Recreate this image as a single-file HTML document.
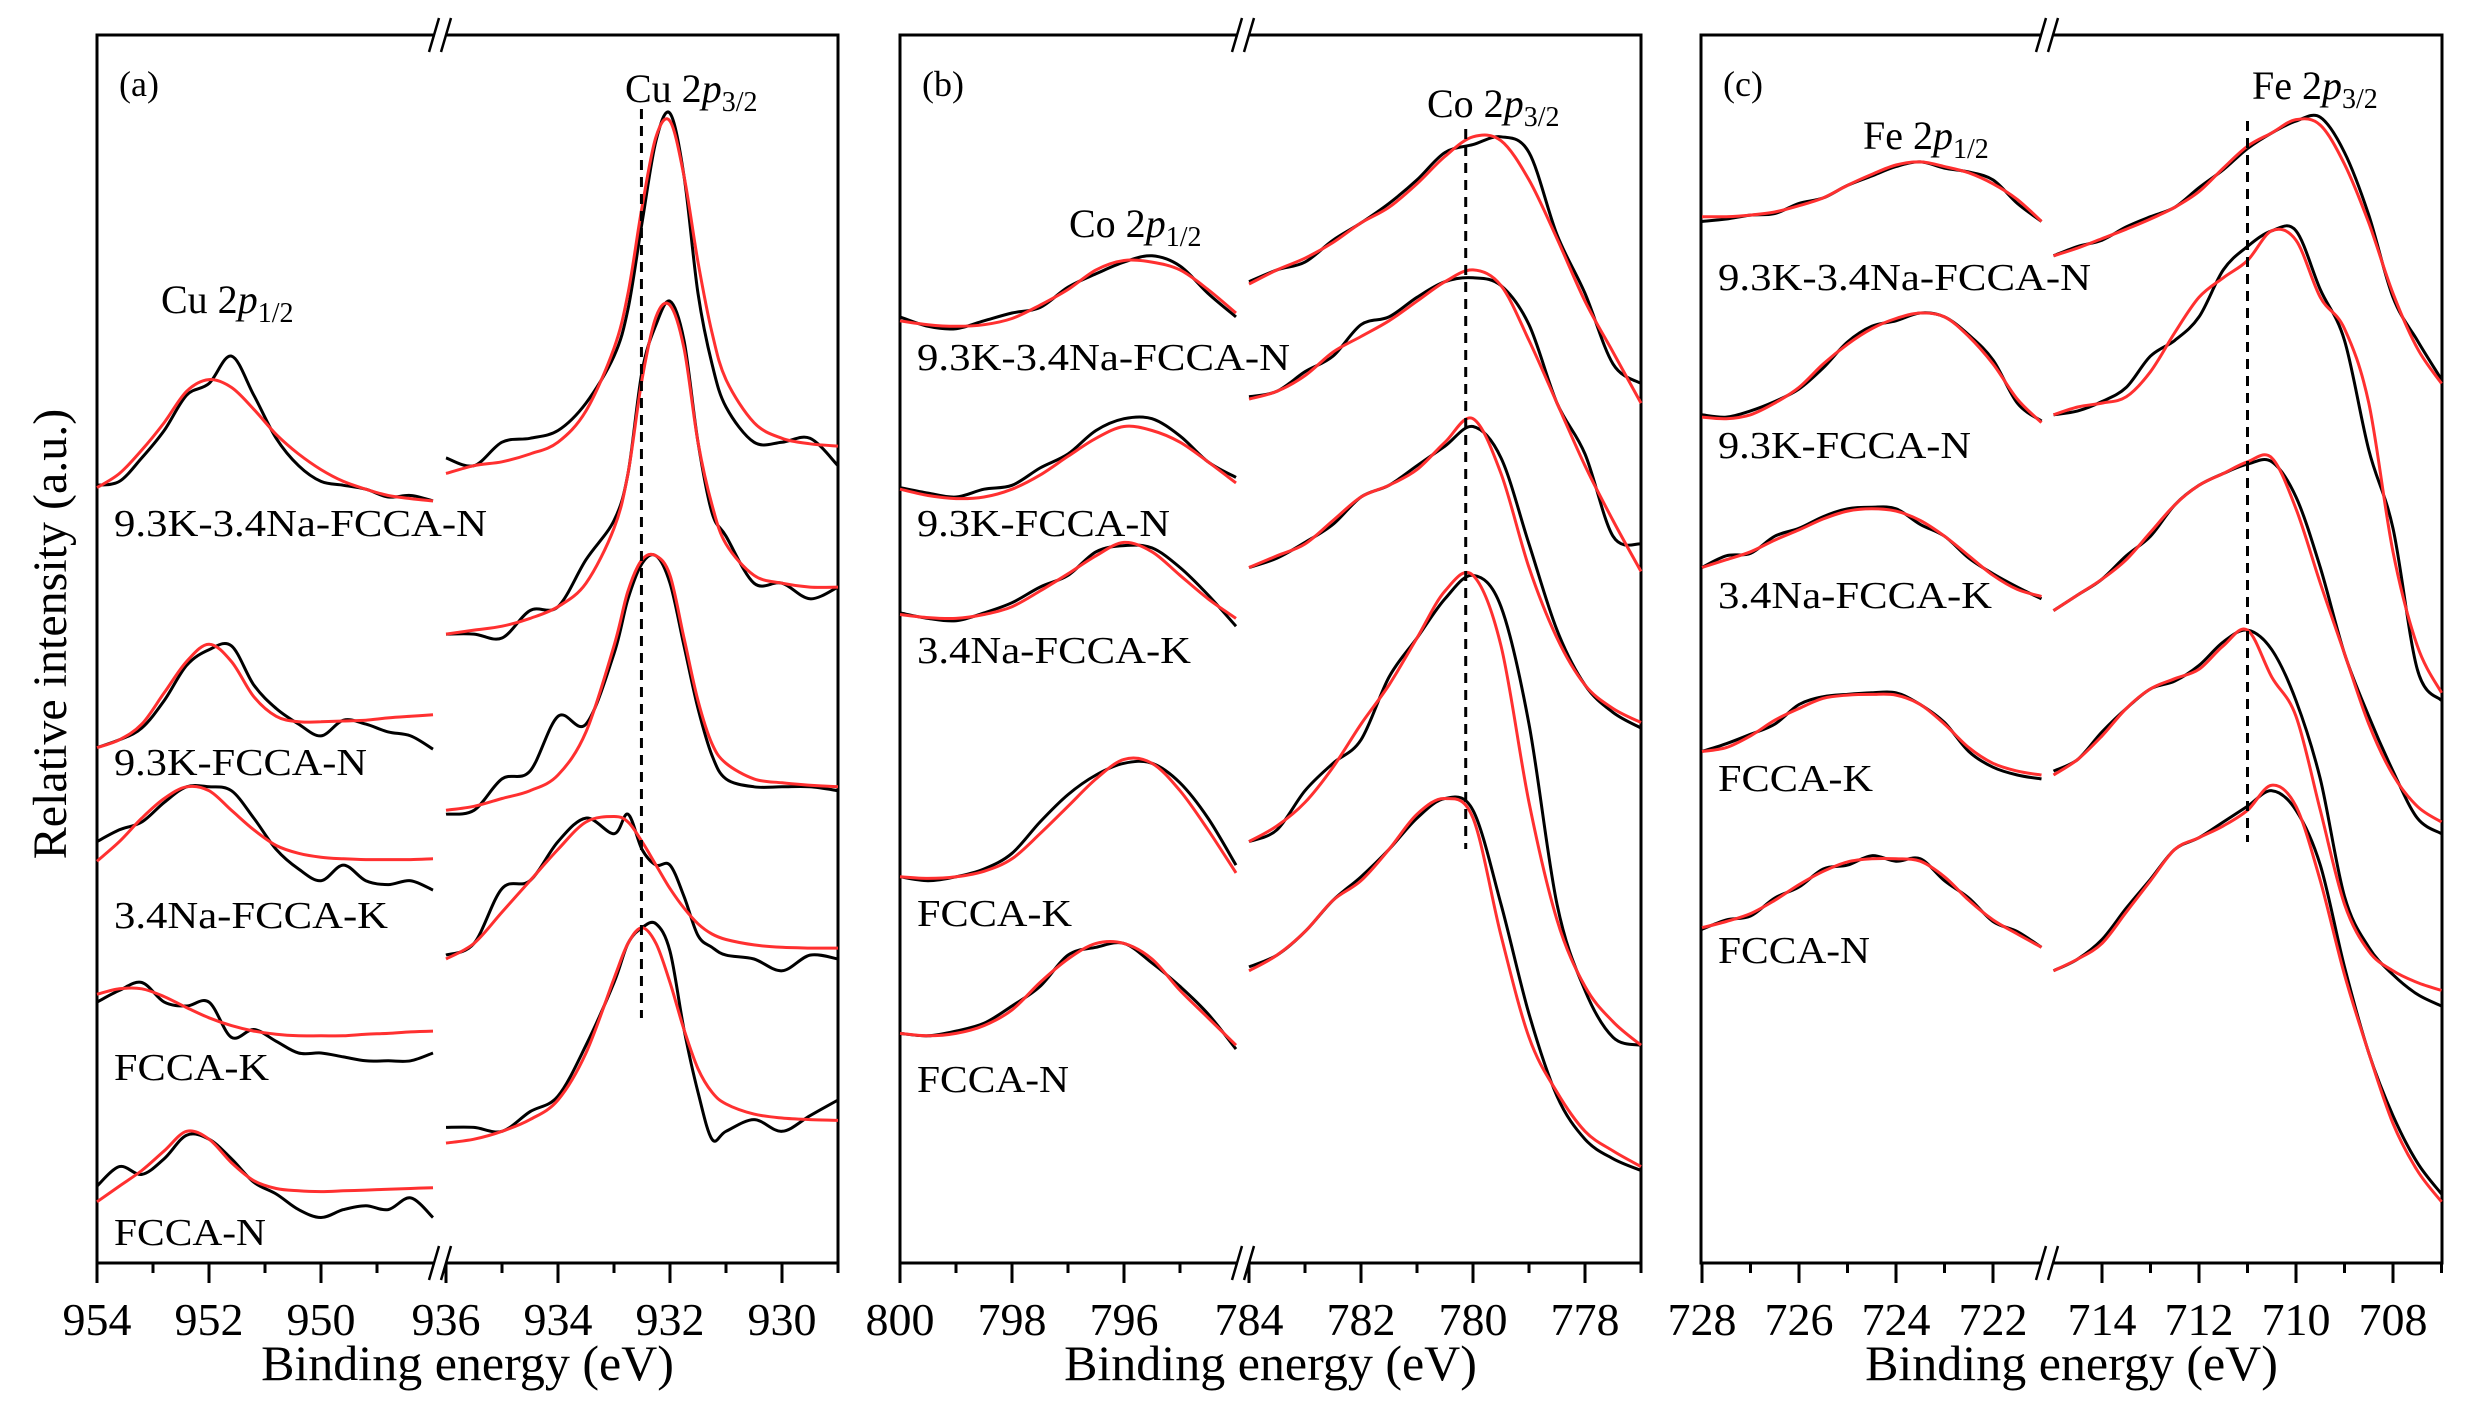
<!DOCTYPE html>
<html><head><meta charset="utf-8"><style>
html,body{margin:0;padding:0;background:#fff}
svg{display:block}
text{font-family:"Liberation Serif",serif;fill:#000}
</style></head><body>
<svg id="chart" width="2471" height="1408" viewBox="0 0 2471 1408" xmlns="http://www.w3.org/2000/svg">
<text x="55" y="634" font-size="48" text-anchor="middle" dominant-baseline="middle" transform="rotate(-90 55 634)">Relative intensity (a.u.)</text>
<g id="layer"></g>
</svg>
<script>
// ---- energies (eV) ----
const aLeftE=[954,953.6,953.2,952.8,952.4,952.0,951.6,951.2,950.8,950.4,950.0,949.6,949.2,948.8,948.4,948.0];
const aRightE=[936,935.5,935,934.5,934,933.5,933,932.75,932.5,932.25,932,931.75,931.5,931.25,931,930.5,930,929.5,929];
const bLeftE=[800,799.5,799,798.5,798,797.5,797,796.5,796,795.5,795,794.5,794];
const bRightE=[784,783.5,783,782.5,782,781.5,781,780.5,780,779.5,779,778.5,778,777.5,777];
const cLeftE=[728,727.5,727,726.5,726,725.5,725,724.5,724,723.5,723,722.5,722,721.5,721];
const cRightE=[715,714.5,714,713.5,713,712.5,712,711.5,711,710.5,710,709.5,709,708.5,708,707.5,707];
// ---- sample names ----
const samples=["9.3K-3.4Na-FCCA-N","9.3K-FCCA-N","3.4Na-FCCA-K","FCCA-K","FCCA-N"];
// ---- panel (a) Cu ----
const aL_black=[[1425,1430,1460,1495,1540,1555,1590,1540,1485,1450,1430,1425,1420,1410,1412,1405],
[1090,1100,1115,1150,1195,1215,1220,1170,1140,1120,1105,1125,1120,1110,1105,1088],
[970,985,995,1020,1040,1040,1035,1000,960,935,920,940,920,915,920,908],
[765,780,790,765,760,765,720,730,715,700,700,695,690,690,690,700],
[530,555,545,565,595,590,565,535,520,500,490,500,505,500,515,490]];
const aL_fit=[[1422,1440,1470,1505,1545,1560,1550,1522,1490,1465,1445,1430,1420,1412,1408,1405],
[1090,1100,1120,1160,1200,1222,1200,1155,1130,1123,1123,1124,1125,1128,1130,1132],
[945,970,1000,1025,1040,1035,1010,985,965,955,950,948,947,947,947,948],
[775,782,782,772,758,745,735,728,724,722,722,722,724,725,727,728],
[510,530,550,575,600,590,560,537,527,524,523,524,525,526,527,528]];
const aR_black=[[1460,1450,1480,1485,1495,1530,1590,1650,1760,1865,1900,1820,1670,1580,1525,1480,1480,1485,1450],
[1235,1235,1230,1265,1270,1330,1380,1440,1570,1630,1660,1610,1480,1390,1360,1300,1300,1280,1295],
[1005,1010,1050,1060,1130,1120,1210,1280,1325,1335,1300,1220,1140,1080,1050,1040,1040,1040,1035],
[825,840,910,920,970,1000,980,1005,960,940,940,900,850,835,825,820,805,825,820],
[605,605,600,625,645,710,790,840,860,865,830,730,650,590,600,615,600,620,640]];
const aR_fit=[[1440,1450,1455,1465,1480,1520,1600,1670,1780,1870,1890,1820,1710,1620,1560,1505,1485,1478,1475],
[1235,1240,1245,1255,1270,1300,1370,1440,1560,1640,1655,1600,1480,1400,1350,1310,1300,1295,1295],
[1010,1015,1025,1035,1055,1110,1220,1290,1330,1335,1310,1230,1150,1095,1070,1050,1045,1042,1040],
[820,840,880,920,960,995,1002,995,970,940,910,885,865,852,845,838,835,834,834],
[585,590,600,615,640,700,795,840,860,840,790,730,680,650,635,622,617,615,614]];
// ---- panel (b) Co ----
const bL_black=[[1640,1628,1625,1635,1645,1652,1678,1695,1710,1718,1705,1670,1640],
[1422,1415,1410,1420,1425,1447,1465,1495,1510,1510,1488,1455,1435],
[1262,1255,1252,1262,1275,1295,1310,1340,1348,1345,1320,1285,1245],
[925,920,925,935,955,995,1030,1055,1070,1070,1045,1000,940],
[725,722,728,738,760,785,825,835,840,815,785,750,705]];
const bL_fit=[[1635,1630,1628,1630,1638,1655,1675,1700,1712,1710,1700,1675,1645],
[1420,1412,1408,1410,1420,1438,1462,1485,1500,1495,1480,1455,1428],
[1260,1256,1255,1260,1270,1290,1312,1335,1352,1340,1310,1280,1255],
[925,923,925,932,948,980,1015,1050,1075,1070,1035,985,930],
[725,722,725,735,755,790,820,840,840,820,780,745,710]];
const bR_black=[[1685,1700,1710,1738,1760,1785,1815,1850,1860,1870,1850,1745,1670,1580,1555],
[1538,1545,1570,1590,1630,1640,1665,1685,1690,1680,1630,1530,1465,1360,1350],
[1320,1332,1352,1375,1410,1425,1450,1475,1500,1460,1350,1240,1170,1135,1115],
[970,985,1035,1070,1100,1180,1230,1280,1310,1270,1120,890,780,720,710],
[810,825,855,895,925,960,1000,1025,1010,890,750,645,590,565,550]];
const bR_fit=[[1682,1700,1715,1735,1760,1780,1810,1845,1870,1865,1815,1740,1660,1595,1530],
[1535,1545,1565,1595,1615,1635,1660,1685,1700,1680,1610,1530,1450,1380,1315],
[1320,1335,1350,1380,1410,1425,1445,1480,1510,1440,1320,1230,1170,1140,1122],
[970,990,1020,1065,1120,1170,1230,1290,1310,1220,1020,870,785,740,710],
[805,825,855,895,920,960,1005,1025,1000,850,720,650,600,575,555]];
// ---- panel (c) Fe ----
const cL_black=[[1762,1765,1770,1772,1785,1792,1808,1820,1832,1838,1830,1825,1815,1785,1762],
[1515,1512,1520,1532,1548,1575,1608,1628,1635,1645,1640,1617,1585,1530,1507],
[1320,1335,1338,1360,1370,1385,1395,1397,1395,1375,1360,1332,1312,1295,1280],
[1085,1095,1107,1120,1145,1155,1158,1160,1160,1145,1122,1085,1065,1055,1050],
[858,870,875,898,912,935,940,952,945,948,920,898,868,855,835]];
const cL_fit=[[1768,1768,1770,1774,1782,1792,1808,1822,1834,1838,1832,1824,1810,1790,1762],
[1512,1510,1515,1530,1550,1580,1605,1625,1638,1645,1640,1615,1580,1535,1505],
[1320,1330,1340,1355,1368,1382,1392,1395,1392,1380,1360,1335,1310,1292,1283],
[1085,1090,1105,1125,1140,1153,1157,1158,1157,1145,1120,1090,1070,1060,1055],
[860,868,878,895,915,932,944,948,948,945,925,895,870,852,835]];
const cR_black=[[1718,1730,1738,1755,1768,1780,1805,1828,1855,1875,1890,1895,1850,1770,1665,1610,1560],
[1515,1520,1532,1550,1590,1610,1640,1700,1730,1750,1750,1675,1610,1470,1370,1190,1150],
[1265,1285,1305,1335,1360,1400,1425,1440,1452,1455,1410,1320,1210,1130,1060,1000,980],
[1060,1075,1110,1140,1165,1175,1195,1225,1240,1215,1150,1050,900,835,800,775,760],
[805,820,845,885,922,960,975,995,1015,1035,1010,940,810,700,620,560,520]];
const cR_fit=[[1718,1728,1740,1752,1765,1780,1800,1830,1858,1875,1892,1885,1835,1760,1670,1600,1555],
[1515,1525,1530,1538,1570,1620,1665,1690,1712,1750,1738,1665,1625,1530,1340,1220,1160],
[1265,1285,1305,1330,1365,1400,1425,1440,1455,1460,1395,1300,1210,1120,1055,1015,995],
[1055,1075,1105,1140,1165,1178,1190,1220,1240,1180,1130,1010,890,830,805,790,780],
[805,820,840,880,920,960,975,990,1010,1042,1015,920,800,700,610,550,510]];
// ---- ticks / peak positions ----
const aTicksL=[954,953,952,951,950,949], aTicksR=[936,935,934,933,932,931,930,929];
const bTicksL=[800,799,798,797,796,795], bTicksR=[784,783,782,781,780,779,778,777];
const cTicksL=[728,727,726,725,724,723,722], cTicksR=[714,713,712,711,710,709,708,707];
const aLabelsL=[954,952,950], aLabelsR=[936,934,932,930];
const bLabelsL=[800,798,796], bLabelsR=[784,782,780,778];
const cLabelsL=[728,726,724,722], cLabelsR=[714,712,710,708];
const peakLines=[932.51,780.13,711.0];

const NS="http://www.w3.org/2000/svg";
const layer=document.getElementById('layer');
const TOP=35,BOT=1263;
function yS(v){return TOP+(2000-v)/1.277;}
function mk(tag,attrs,parent){const e=document.createElementNS(NS,tag);for(const k in attrs)e.setAttribute(k,attrs[k]);(parent||layer).appendChild(e);return e;}
function smooth(pts){let d="M"+pts[0][0].toFixed(1)+","+pts[0][1].toFixed(1);
 for(let i=0;i<pts.length-1;i++){const p0=pts[i-1]||pts[i],p1=pts[i],p2=pts[i+1],p3=pts[i+2]||p2;
  const c1=[p1[0]+(p2[0]-p0[0])/6,p1[1]+(p2[1]-p0[1])/6],c2=[p2[0]-(p3[0]-p1[0])/6,p2[1]-(p3[1]-p1[1])/6];
  d+=" C"+c1[0].toFixed(1)+","+c1[1].toFixed(1)+" "+c2[0].toFixed(1)+","+c2[1].toFixed(1)+" "+p2[0].toFixed(1)+","+p2[1].toFixed(1);}
 return d;}
function poly(pts){return "M"+pts.map(p=>p[0].toFixed(1)+","+p[1].toFixed(1)).join(" L");}

const panels=[
 {id:"a",left:97,right:838,xL:e=>97+(954-e)*56,xR:e=>782+(930-e)*56,brk:440,LE:aLeftE,RE:aRightE,
  Lb:aL_black,Lf:aL_fit,Rb:aR_black,Rf:aR_fit,tL:aTicksL,tR:aTicksR,lL:aLabelsL,lR:aLabelsR,major:e=>e%2===0,
  peak:{e:932.51,y1:109,y2:1018,side:"R"},
  notes:[["Cu 2","3/2",625,102],["Cu 2","1/2",161,313]],
  labels:[[114,536,373],[114,775,253],[114,928,274],[114,1080,155],[114,1245,152]]},
 {id:"b",left:900,right:1641,xL:e=>900+(800-e)*56,xR:e=>1249+(784-e)*56,brk:1243,LE:bLeftE,RE:bRightE,
  Lb:bL_black,Lf:bL_fit,Rb:bR_black,Rf:bR_fit,tL:bTicksL,tR:bTicksR,lL:bLabelsL,lR:bLabelsR,major:e=>e%2===0,
  peak:{e:780.13,y1:129,y2:849,side:"R"},
  notes:[["Co 2","3/2",1427,117],["Co 2","1/2",1069,237]],
  labels:[[917,370,373],[917,536,253],[917,663,274],[917,926,155],[917,1092,152]]},
 {id:"c",left:1701,right:2442,xL:e=>1702+(728-e)*48.5,xR:e=>2393+(708-e)*48.5,brk:2047,LE:cLeftE,RE:cRightE,
  Lb:cL_black,Lf:cL_fit,Rb:cR_black,Rf:cR_fit,tL:cTicksL,tR:cTicksR,lL:cLabelsL,lR:cLabelsR,major:e=>e%2===0,
  peak:{e:711.0,y1:121,y2:842,side:"R"},
  notes:[["Fe 2","3/2",2252,99],["Fe 2","1/2",1863,149]],
  labels:[[1718,290,373],[1718,458,253],[1718,608,274],[1718,791,155],[1718,963,152]]}
];

panels.forEach(P=>{
 const g=mk('g',{});
 
 
 const fr=mk('rect',{x:P.left,y:TOP,width:P.right-P.left,height:BOT-TOP,fill:'none',stroke:'#000','stroke-width':3},g);
 
 
 // ticks
 [[P.tL,P.xL],[P.tR,P.xR]].forEach(([ticks,xf])=>{
  ticks.forEach(e=>{const x=xf(e);const t=mk('line',{x1:x,x2:x,y1:BOT,y2:BOT+(P.major(e)?20:10),stroke:'#000','stroke-width':3},g);
   
   });
 });
 [[P.lL,P.xL],[P.lR,P.xR]].forEach(([labs,xf])=>{
  labs.forEach(e=>{const t=mk('text',{x:xf(e),y:1335,'font-size':46,'text-anchor':'middle'},g);t.textContent=e;
   
   });
 });
 // break marks
 [TOP,BOT].forEach(yy=>{
  const w=mk('rect',{x:P.brk-5,y:yy-4,width:11,height:8,fill:'#fff'},g);
  
  
  [-6,6].forEach(dx=>{const l=mk('line',{x1:P.brk+dx-5,y1:yy+17,x2:P.brk+dx+5,y2:yy-17,stroke:'#000','stroke-width':2.5},g);
   
   });
 });
 const t=mk('text',{x:(P.left+P.right)/2,y:1380,'font-size':50,'text-anchor':'middle'},g);
 t.textContent='Binding energy (eV)';
 
 
 const pl=mk('text',{x:P.left+22,y:96,'font-size':36},g);
 pl.textContent='('+P.id+')';
 
 
 // curves
 for(let i=0;i<5;i++){
  [[P.LE,P.Lb[i],P.Lf[i],P.xL],[P.RE,P.Rb[i],P.Rf[i],P.xR]].forEach(([E,B,F,xf],side)=>{
   const pb=E.map((e,k)=>[xf(e),yS(B[k])]);
   const pf=E.map((e,k)=>[xf(e),yS(F[k])]);
   const b=mk('path',{d:smooth(pb),fill:'none',stroke:'#000','stroke-width':3,'stroke-linejoin':'round'},g);
   
   
   const f=mk('path',{d:smooth(pf),fill:'none',stroke:'#ff3030','stroke-width':3},g);
   
   
  });
  const L=P.labels[i];
  const s=mk('text',{x:L[0],y:L[1],'font-size':38,textLength:L[2],lengthAdjust:'spacingAndGlyphs'},g);
  s.textContent=samples[i];
  
  
 }
 const px=P.xR(P.peak.e);
 const dl=mk('line',{x1:px,x2:px,y1:P.peak.y1,y2:P.peak.y2,stroke:'#000','stroke-width':3,'stroke-dasharray':'10,7'},g);
 
 
 P.notes.forEach(n=>{
  const t=mk('text',{x:n[2],y:n[3],'font-size':40},g);
  
  
  t.appendChild(document.createTextNode(n[0]));
  const ip=mk('tspan',{'font-style':'italic'},t);ip.textContent='p';
  const sb=mk('tspan',{'font-size':28,dy:9},t);sb.textContent=n[1];
 });
});
</script>
</body></html>
